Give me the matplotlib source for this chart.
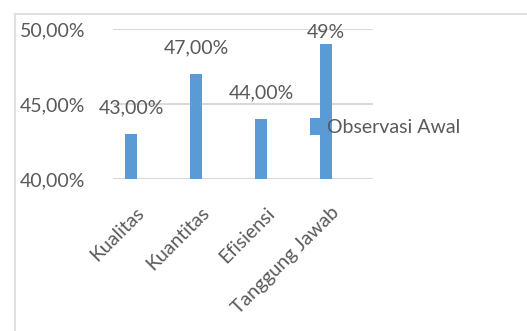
import matplotlib
matplotlib.use("Agg")
import matplotlib.pyplot as plt
from matplotlib.patches import Rectangle
from matplotlib.ticker import FuncFormatter

# data
categories = ["Kualitas", "Kuantitas", "Efisiensi", "Tanggung Jawab"]
values = [43, 47, 44, 49]
value_labels = ["43,00%", "47,00%", "44,00%", "49%"]
series_name = "Observasi Awal"
y_ticks = [40, 45, 50]

BLUE = "#5B9BD5"
TEXT = "#595959"
GRID = "#D9D9D9"
FS = 14

plt.rcParams['font.family'] = ['Lato', 'DejaVu Sans']

fig = plt.figure(figsize=(5.27, 3.31), dpi=100)
# outer chart border (only top and left visible in the crop)
fig.patches.append(Rectangle((15 / 527, -0.1), 1.2, 1 - 14 / 331 + 0.1,
                             transform=fig.transFigure, fill=False,
                             edgecolor=GRID, linewidth=1.2))

ax = fig.add_axes([113 / 527, 1 - 179 / 331, 260 / 527, 150 / 331])
x = list(range(len(categories)))
bars = ax.bar(x, values, width=0.18, color=BLUE, label=series_name, zorder=3)

ax.set_xlim(-18 / 65, 3 + 47 / 65)
ax.set_ylim(40, 50)
ax.set_yticks(y_ticks)
ax.yaxis.set_major_formatter(FuncFormatter(lambda v, p: f"{v:.2f}%".replace(".", ",")))
ax.grid(axis='y', color=GRID, linewidth=1.5, zorder=0)
for s in ax.spines.values():
    s.set_visible(False)
ax.tick_params(axis='y', length=0, pad=20, labelsize=FS, labelcolor=TEXT)

ax.set_xticks([i + 0.07 for i in x])
ax.set_xticklabels(categories, rotation=45, ha='right', rotation_mode='anchor')
ax.tick_params(axis='x', length=0, pad=18, labelsize=FS, labelcolor=TEXT)

for xi, v, lab in zip(x, values, value_labels):
    ax.text(xi, min(v + 1.2, 49.2), lab, ha='center', va='bottom',
            fontsize=FS, color=TEXT, clip_on=False)

ax.legend(handles=[bars], loc='center left', bbox_to_anchor=(310 / 527, 1 - 127 / 331),
          bbox_transform=fig.transFigure, frameon=False, fontsize=FS,
          labelcolor=TEXT, handlelength=0.6, handleheight=1.0, handletextpad=0.25,
          borderpad=0, borderaxespad=0)

fig.savefig("out.png", dpi=100)
